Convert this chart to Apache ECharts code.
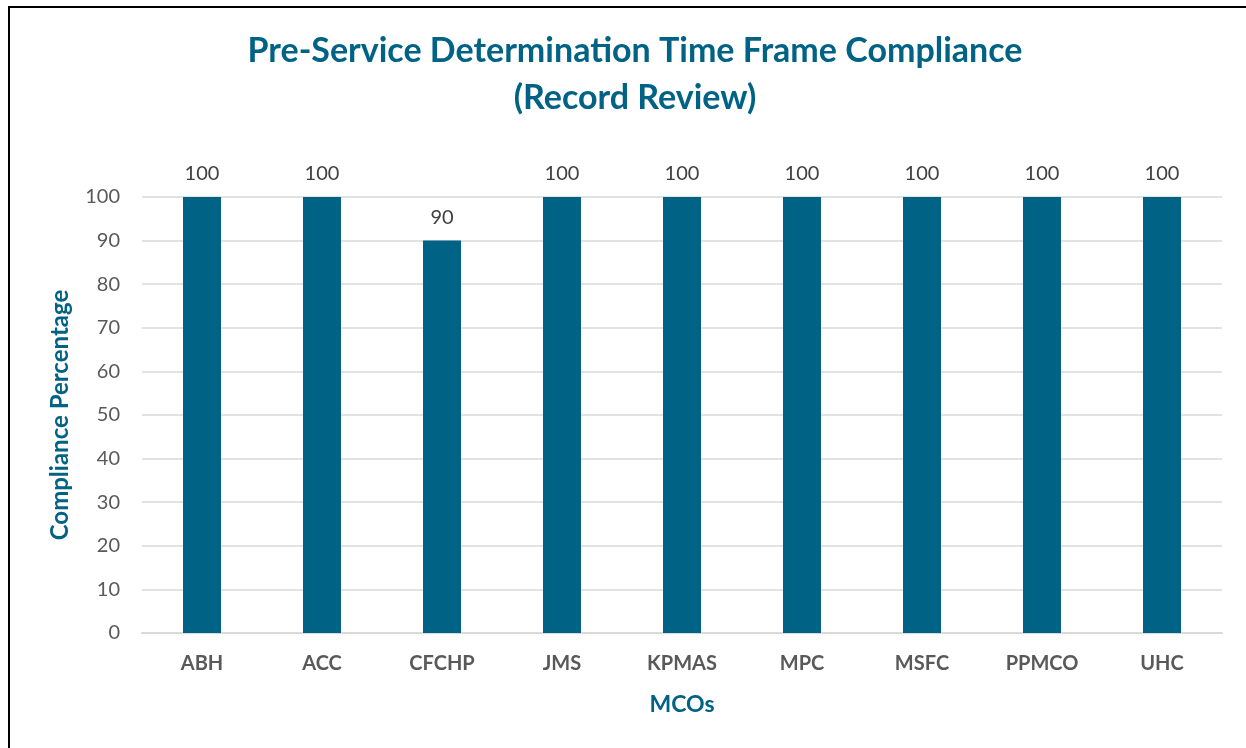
<!DOCTYPE html>
<html>
<head>
<meta charset="utf-8">
<script src="https://cdn.jsdelivr.net/npm/echarts@6/dist/echarts.min.js"></script>
<style>
  html, body { margin: 0; padding: 0; background: #fff; }
  #frame {
    position: absolute; left: 8px; top: 6px; width: 1260px; height: 760px;
    border: 2px solid #000; box-sizing: border-box;
  }
  #chart { position: absolute; left: 0; top: 0; width: 1246px; height: 748px; }
</style>
</head>
<body>
<div id="frame"></div>
<div id="chart"></div>
<script>
const categories = ["ABH", "ACC", "CFCHP", "JMS", "KPMAS", "MPC", "MSFC", "PPMCO", "UHC"];
const compliance = [100, 100, 90, 100, 100, 100, 100, 100, 100];

const teal = "#006285";
const font = "Lato, 'Open Sans', sans-serif";

const myChart = echarts.init(document.getElementById("chart"));
myChart.setOption({
  backgroundColor: "transparent",
  title: {
    text: "Pre-Service Determination Time Frame Compliance\n(Record Review)",
    left: 630,
    textAlign: "center",
    top: 23,
    textStyle: {
      fontFamily: font,
      fontWeight: "bold",
      fontSize: 34,
      lineHeight: 47,
      color: teal,
    },
  },
  grid: {
    left: 142,
    right: 24,
    top: 197,
    bottom: 115,
  },
  xAxis: {
    type: "category",
    data: categories,
    name: "MCOs",
    nameLocation: "middle",
    nameGap: 60,
    nameTextStyle: { fontFamily: font, fontWeight: "bold", fontSize: 23, color: teal },
    axisTick: { show: false },
    axisLine: { lineStyle: { color: "#d9d9d9", width: 2 } },
    axisLabel: {
      margin: 21,
      fontFamily: font,
      fontWeight: "bold",
      fontSize: 20,
      color: "#595959",
    },
  },
  yAxis: {
    type: "value",
    min: 0,
    max: 100,
    interval: 10,
    name: "Compliance Percentage",
    nameLocation: "middle",
    nameGap: 70,
    nameTextStyle: { fontFamily: font, fontWeight: "bold", fontSize: 24, color: teal },
    axisLine: { show: false },
    axisTick: { show: false },
    axisLabel: { margin: 22, fontFamily: font, fontSize: 20, color: "#595959" },
    splitLine: { lineStyle: { color: "#d9d9d9", width: 1.5 } },
  },
  series: [
    {
      type: "bar",
      data: compliance,
      barWidth: 38,
      itemStyle: { color: teal },
      label: {
        show: true,
        position: "top",
        distance: 13,
        fontFamily: font,
        fontSize: 20,
        color: "#404040",
      },
    },
  ],
});
</script>
</body>
</html>
